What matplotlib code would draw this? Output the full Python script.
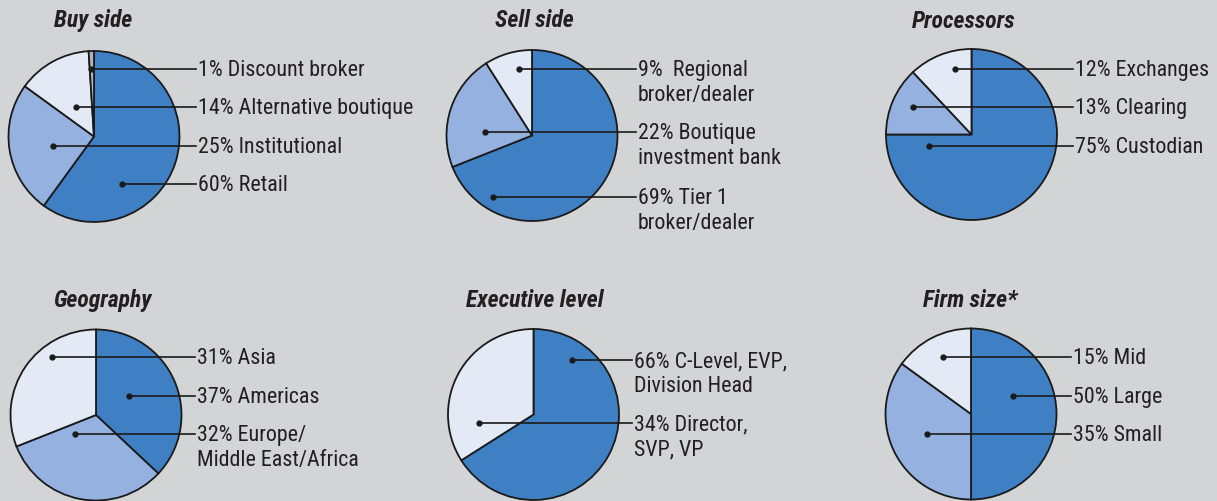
import matplotlib.pyplot as plt

# figure size in pixels (dpi 100)
W, H = 1217, 502

# data for the six pies (clockwise from 12 o'clock)
buy_values = [60, 25, 14, 1]
buy_labels = ["60% Retail", "25% Institutional", "14% Alternative boutique", "1% Discount broker"]

sell_values = [69, 22, 9]
sell_labels = ["69% Tier 1\nbroker/dealer", "22% Boutique\ninvestment bank", "9%  Regional\nbroker/dealer"]

proc_values = [75, 13, 12]
proc_labels = ["75% Custodian", "13% Clearing", "12% Exchanges"]

geo_values = [37, 32, 31]
geo_labels = ["37% Americas", "32% Europe/\nMiddle East/Africa", "31% Asia"]

exec_values = [66, 34]
exec_labels = ["66% C-Level, EVP,\nDivision Head", "34% Director,\nSVP, VP"]

firm_values = [50, 35, 15]
firm_labels = ["50% Large", "35% Small", "15% Mid"]

titles = ["Buy side", "Sell side", "Processors", "Geography", "Executive level", "Firm size*"]

# colours
BG = "#d3d4d6"
DARK = "#3f80c4"
MID = "#95b1df"
LIGHT = "#e3e9f5"
GREY = "#b5b5b5"
TXT = "#231f20"
EDGE = "#1a1a1a"

plt.rcParams['font.family'] = ['Roboto Condensed', 'Archivo Narrow', 'Liberation Sans', 'DejaVu Sans']

# layout: pie centre (px), title baseline pos, leader line end x, dot positions (px) per slice
layout = [
    dict(c=(94, 137.5), title=(93, 27), lx=196, colors=[DARK, MID, LIGHT, GREY],
         dots=[(122, 185), (53, 147), (76, 108), (91, 70)]),
    dict(c=(532, 136.5), title=(534, 27), lx=636, colors=[DARK, MID, LIGHT],
         dots=[(493, 198), (485, 133), (519, 70)]),
    dict(c=(971.5, 135.5), title=(964, 28), lx=1073, colors=[DARK, MID, LIGHT],
         dots=[(929, 147), (913, 108), (955, 70)]),
    dict(c=(96, 416), title=(102, 307), lx=195, colors=[DARK, MID, LIGHT],
         dots=[(129, 397), (75, 435), (52, 358)]),
    dict(c=(533.5, 415.5), title=(535, 307), lx=632, colors=[DARK, LIGHT],
         dots=[(572, 361), (479, 424)]),
    dict(c=(971, 415), title=(970, 307), lx=1071, colors=[DARK, MID, LIGHT],
         dots=[(1013, 397), (927, 435), (943, 358)]),
]
R = 85.5
FS = 15.8
TFS = 17

all_values = [buy_values, sell_values, proc_values, geo_values, exec_values, firm_values]
all_labels = [buy_labels, sell_labels, proc_labels, geo_labels, exec_labels, firm_labels]

fig = plt.figure(figsize=(W / 100, H / 100), dpi=100, facecolor=BG)
ax = fig.add_axes([0, 0, 1, 1])
ax.set_facecolor(BG)


def Y(y):
    return H - y


for vals, labs, title, lay in zip(all_values, all_labels, titles, layout):
    cx, cy = lay["c"]
    ax.pie(vals, colors=lay["colors"], startangle=90, counterclock=False,
           center=(cx, Y(cy)), radius=R,
           wedgeprops=dict(edgecolor=EDGE, linewidth=1.3))
    ax.text(lay["title"][0], Y(lay["title"][1]), title, ha="center", va="baseline",
            fontsize=TFS, fontweight="black", fontstyle="italic", color=TXT)
    for lab, (dx, dy) in zip(labs, lay["dots"]):
        ax.plot([dx, lay["lx"]], [Y(dy), Y(dy)], color=EDGE, lw=1.2, zorder=5)
        ax.plot(dx, Y(dy), "o", color=EDGE, ms=3.5, zorder=6)
        for i, line in enumerate(lab.split("\n")):
            ax.text(lay["lx"] + 2, Y(dy + 6 + 25 * i), line, ha="left", va="baseline",
                    fontsize=FS, color=TXT)

ax.set_xlim(0, W)
ax.set_ylim(0, H)
ax.axis("off")
fig.savefig("out.png", dpi=100, facecolor=BG)
